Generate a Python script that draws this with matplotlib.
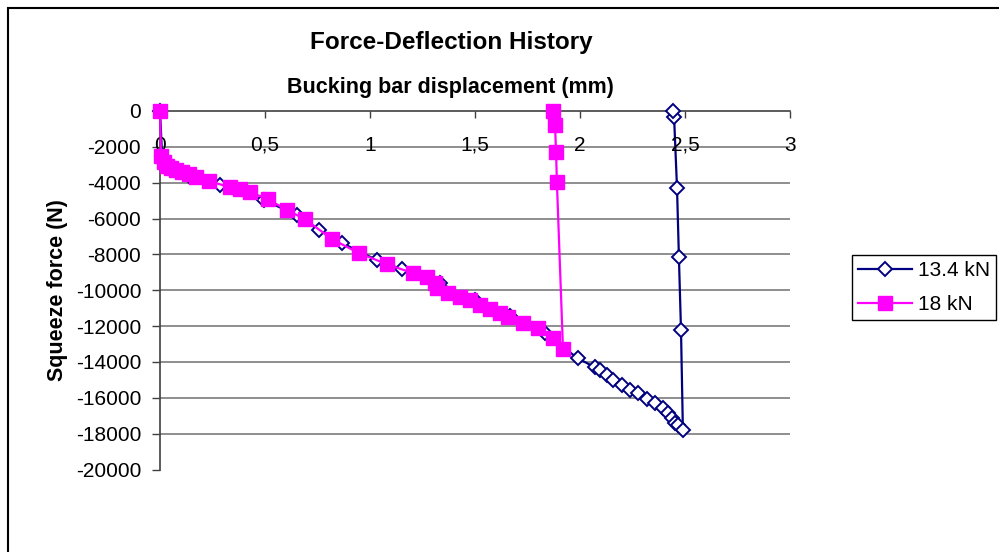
import matplotlib.pyplot as plt
from matplotlib.patches import Rectangle

plt.rcParams.update({"font.family": ["Liberation Sans", "DejaVu Sans"],
                     "axes.unicode_minus": False})

# 13.4 kN run (loading, then unloading)
x_134 = [0, 0.01, 0.05, 0.14, 0.286, 0.495, 0.652, 0.757, 0.867, 1.033, 1.152,
         1.333, 1.5, 1.667, 1.833, 1.990, 2.071, 2.095, 2.129, 2.157, 2.200,
         2.238, 2.276, 2.319, 2.357, 2.395, 2.419, 2.438, 2.452, 2.467, 2.490,
         2.481, 2.471, 2.462, 2.448, 2.443]
y_134 = [0, -2500, -3200, -3600, -4130, -4970, -5810, -6650, -7370, -8320, -8830,
         -9610, -10560, -11450, -12400, -13800, -14300, -14470, -14750, -15030, -15310,
         -15590, -15760, -16090, -16310, -16590, -16870, -17150, -17380, -17540, -17820,
         -12240, -8160, -4300, -335, 0]

# 18 kN run
x_18 = [0, 0.005, 0.019, 0.033, 0.052, 0.076, 0.105, 0.138, 0.171, 0.233, 0.333,
        0.381, 0.429, 0.514, 0.605, 0.690, 0.819, 0.948, 1.081, 1.205, 1.271,
        1.310, 1.319, 1.371, 1.429, 1.476, 1.524, 1.571, 1.619, 1.657, 1.729,
        1.800, 1.871, 1.919, 1.890, 1.886, 1.881, 1.871]
y_18 = [0, -2500, -2850, -3070, -3180, -3300, -3410, -3520, -3690, -3910, -4250,
        -4360, -4530, -4920, -5530, -6030, -7150, -7930, -8550, -9050, -9270,
        -9610, -9890, -10170, -10390, -10560, -10840, -11060, -11290, -11510, -11840,
        -12120, -12680, -13300, -3970, -2290, -780, 0]

x_ticks = [0, 0.5, 1, 1.5, 2, 2.5, 3]
x_tick_labels = ["0", "0,5", "1", "1,5", "2", "2,5", "3"]
y_ticks = [0, -2000, -4000, -6000, -8000, -10000, -12000, -14000, -16000, -18000, -20000]

W, H = 999, 552
fig = plt.figure(figsize=(W / 100, H / 100), dpi=100)
ax = fig.add_axes([160 / W, 1 - 469.5 / H, 630 / W, 358.5 / H])

ax.plot(x_134, y_134, color="#000080", lw=1.6, marker="D", markersize=7,
        markerfacecolor="white", markeredgecolor="#000080", markeredgewidth=1.4,
        label="13.4 kN", clip_on=False, zorder=3)
ax.plot(x_18, y_18, color="#FF00FF", lw=1.6, marker="s", markersize=10,
        markerfacecolor="#FF00FF", markeredgecolor="#FF00FF", label="18 kN",
        clip_on=False, zorder=4)

ax.set_xlim(0, 3)
ax.set_ylim(-20000, 0)

for yv in y_ticks[1:-1]:
    ax.axhline(yv, color="#707070", lw=1.1, zorder=0)

ax.spines["right"].set_visible(False)
ax.spines["bottom"].set_visible(False)
ax.spines["top"].set_color("#404040")
ax.spines["left"].set_color("#404040")
ax.spines["top"].set_linewidth(1.2)
ax.spines["left"].set_linewidth(1.2)

ax.xaxis.tick_top()
ax.set_xticks(x_ticks)
ax.tick_params(axis="x", direction="in", length=5, width=1, color="#404040",
               labeltop=False, labelbottom=False)
for t, lab in zip(x_ticks, x_tick_labels):
    ax.text(t, 0.905, lab, transform=ax.get_xaxis_transform(), ha="center",
            va="center", fontsize=15, clip_on=False)

ax.set_yticks(y_ticks)
ax.set_yticklabels([str(v) for v in y_ticks])
ax.tick_params(axis="y", direction="out", length=5.5, width=1, color="#404040",
               pad=8, labelsize=15)

fig.text(451 / W, 1 - 43 / H, "Force-Deflection History", ha="center",
         va="center", fontsize=17.5, fontweight="bold")
fig.text(450 / W, 1 - 87 / H, "Bucking bar displacement (mm)", ha="center",
         va="center", fontsize=15.5, fontweight="bold")
fig.text(58 / W, 1 - 290 / H, "Squeeze force (N)", ha="center", va="center",
         rotation=90, fontsize=15.5, fontweight="bold")

fig.legend(loc="upper left", bbox_to_anchor=(852 / W, 1 - 255 / H),
           fontsize=15, frameon=True, fancybox=False, edgecolor="black",
           framealpha=1, handlelength=2.6, handletextpad=0.25, borderpad=0.3,
           borderaxespad=0, labelspacing=0.7)

fig.add_artist(Rectangle((8 / W, -0.1), 1.2, 1.1 - 8 / H, transform=fig.transFigure,
                         fill=False, edgecolor="black", lw=1.5))

fig.savefig("out.png", dpi=100)
